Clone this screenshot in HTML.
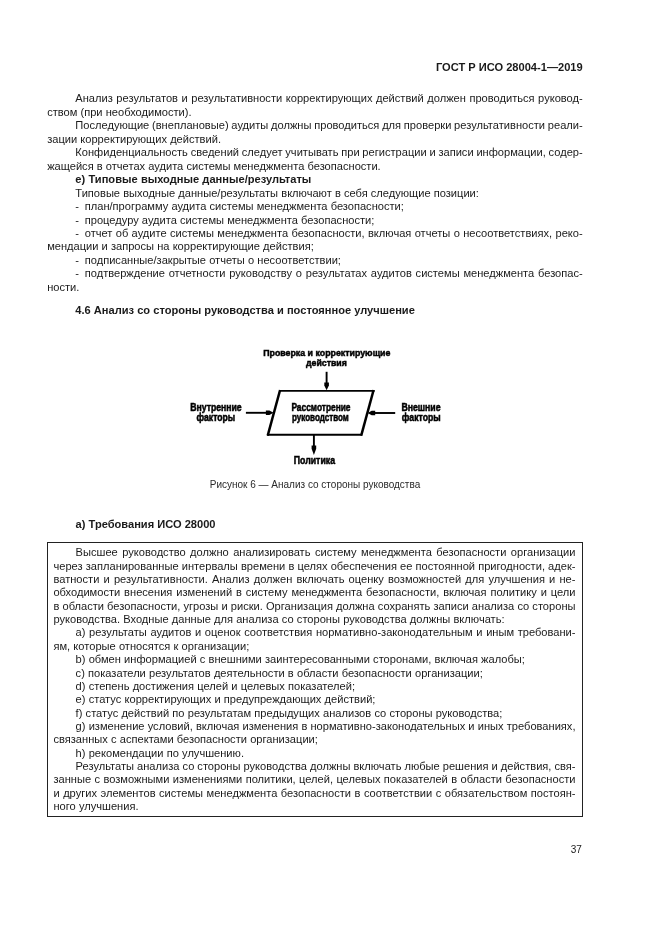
<!DOCTYPE html>
<html lang="ru"><head><meta charset="utf-8"><title>ГОСТ Р ИСО 28004-1—2019</title>
<style>
html,body{margin:0;padding:0;background:#fff;}
body{width:661px;height:935px;position:relative;overflow:hidden;font-family:"Liberation Sans",sans-serif;color:#1a1a1a;}
.t{position:absolute;font-size:11.104px;line-height:13px;height:13px;white-space:nowrap;}
.j{white-space:normal;text-align:justify;text-align-last:justify;}
.l{text-align:left;}
.b{font-weight:bold;}
.r{text-align:right;}
.c{text-align:center;}
i.d{font-style:normal;display:inline-block;width:9.4px;}
#bx{position:absolute;left:47px;top:542px;width:536px;height:275px;box-sizing:border-box;border:1px solid #222;}
svg{position:absolute;left:0;top:0;}
#pg{position:absolute;left:0;top:0;width:661px;height:935px;will-change:transform;}
</style></head><body><div id="pg">

<div class="t l b" style="left:300.00px;top:61px;width:282.70px;text-align:right;line-height:12px;height:12px;">ГОСТ Р ИСО 28004-1—2019</div>
<div class="t l" style="left:75.35px;top:92px;width:507.35px;word-spacing:0.462px;line-height:12px;height:12px;">Анализ результатов и результативности корректирующих действий должен проводиться руковод-</div>
<div class="t l" style="left:47.15px;top:106px;width:535.55px;word-spacing:0.06px;line-height:12px;height:12px;">ством (при необходимости).</div>
<div class="t l" style="left:75.35px;top:119px;width:507.35px;word-spacing:-0.316px;line-height:12px;height:12px;">Последующие (внеплановые) аудиты должны проводиться для проверки результативности реали-</div>
<div class="t l" style="left:47.15px;top:133px;width:535.55px;word-spacing:0.06px;line-height:12px;height:12px;">зации корректирующих действий.</div>
<div class="t l" style="left:75.35px;top:146px;width:507.35px;word-spacing:-0.310px;line-height:12px;height:12px;">Конфиденциальность сведений следует учитывать при регистрации и записи информации, содер-</div>
<div class="t l" style="left:47.15px;top:160px;width:535.55px;word-spacing:0.06px;line-height:12px;height:12px;">жащейся в отчетах аудита системы менеджмента безопасности.</div>
<div class="t l b" style="left:75.35px;top:173px;width:507.35px;word-spacing:0.2px;line-height:12px;height:12px;">е) Типовые выходные данные/результаты</div>
<div class="t l" style="left:75.35px;top:187px;width:507.35px;word-spacing:0.06px;line-height:12px;height:12px;">Типовые выходные данные/результаты включают в себя следующие позиции:</div>
<div class="t l" style="left:75.35px;top:200px;width:507.35px;word-spacing:0.06px;line-height:12px;height:12px;"><i class=d>-</i>план/программу аудита системы менеджмента безопасности;</div>
<div class="t l" style="left:75.35px;top:214px;width:507.35px;word-spacing:0.06px;line-height:12px;height:12px;"><i class=d>-</i>процедуру аудита системы менеджмента безопасности;</div>
<div class="t l" style="left:75.35px;top:227px;width:507.35px;word-spacing:0.249px;line-height:12px;height:12px;"><i class=d>-</i>отчет об аудите системы менеджмента безопасности, включая отчеты о несоответствиях, реко-</div>
<div class="t l" style="left:47.15px;top:240px;width:535.55px;word-spacing:0.06px;line-height:12px;height:12px;">мендации и запросы на корректирующие действия;</div>
<div class="t l" style="left:75.35px;top:254px;width:507.35px;word-spacing:0.06px;line-height:12px;height:12px;"><i class=d>-</i>подписанные/закрытые отчеты о несоответствии;</div>
<div class="t l" style="left:75.35px;top:267px;width:507.35px;word-spacing:0.716px;line-height:12px;height:12px;"><i class=d>-</i>подтверждение отчетности руководству о результатах аудитов системы менеджмента безопас-</div>
<div class="t l" style="left:47.15px;top:281px;width:535.55px;word-spacing:0.06px;line-height:12px;height:12px;">ности.</div>
<div class="t l b" style="left:75.35px;top:304px;width:507.35px;line-height:12px;height:12px;">4.6 Анализ со стороны руководства и постоянное улучшение</div>
<svg width="661" height="935" viewBox="0 0 661 935">
<g fill="none" stroke="#000" stroke-width="1.9" stroke-linecap="butt">
<path d="M279.2 390.9 H374.6"/>
<path d="M267.0 434.8 H362.0"/>
<path d="M326.6 371.8 V386"/>
<path d="M245.9 412.8 H268"/>
<path d="M395.2 413.0 H373"/>
<path d="M313.9 434.8 V448"/>
</g>
<g fill="none" stroke="#000" stroke-width="2.5" stroke-linecap="butt">
<path d="M280.1 390 L267.7 435.7"/>
<path d="M373.6 390 L361.2 435.7"/>
</g>
<g fill="#000" stroke="none">
<path d="M324.3 382.4 L328.9 382.4 L328.9 385.5 L326.6 390.2 L324.3 385.5 Z"/>
<path d="M265.9 410.5 L269.4 410.5 L273.6 412.8 L269.4 415.1 L265.9 415.1 Z"/>
<path d="M375.2 410.7 L371.7 410.7 L367.6 413.0 L371.7 415.3 L375.2 415.3 Z"/>
<path d="M311.6 445.4 L316.2 445.4 L316.2 448.8 L313.9 455.0 L311.6 448.8 Z"/>
</g>
<g font-family="Liberation Sans, sans-serif" font-weight="bold" font-size="10" fill="#000" stroke="#000" stroke-width="0.5" style="filter:blur(0.3px)">
<text x="263.2" y="356.0" font-size="9.8" textLength="127.2" lengthAdjust="spacingAndGlyphs">Проверка и корректирующие</text>
<text x="306.0" y="366.3" font-size="9.8" textLength="40.8" lengthAdjust="spacingAndGlyphs">действия</text>
<text x="190.2" y="411.0" textLength="51.5" lengthAdjust="spacingAndGlyphs">Внутренние</text>
<text x="196.5" y="420.6" textLength="38.7" lengthAdjust="spacingAndGlyphs">факторы</text>
<text x="291.4" y="411.0" textLength="59.1" lengthAdjust="spacingAndGlyphs">Рассмотрение</text>
<text x="292.0" y="420.6" textLength="56.8" lengthAdjust="spacingAndGlyphs">руководством</text>
<text x="401.4" y="411.0" textLength="39.2" lengthAdjust="spacingAndGlyphs">Внешние</text>
<text x="401.8" y="420.6" textLength="38.8" lengthAdjust="spacingAndGlyphs">факторы</text>
<text x="293.8" y="464.1" textLength="41.2" lengthAdjust="spacingAndGlyphs">Политика</text>
</g>
</svg>
<div class="t l" style="left:47.30px;top:479px;width:535.40px;text-align:center;font-size:10px;color:#2a2a2a;line-height:11px;height:11px;">Рисунок 6 — Анализ со стороны руководства</div>
<div class="t l b" style="left:75.60px;top:518px;width:507.10px;line-height:12px;height:12px;">а) Требования ИСО 28000</div>
<div id="bx"></div>
<div class="t l" style="left:75.60px;top:546px;width:499.90px;word-spacing:1.356px;line-height:12px;height:12px;">Высшее руководство должно анализировать систему менеджмента безопасности организации</div>
<div class="t l" style="left:53.45px;top:560px;width:522.05px;word-spacing:0.071px;line-height:12px;height:12px;">через запланированные интервалы времени в целях обеспечения ее постоянной пригодности, адек-</div>
<div class="t l" style="left:53.45px;top:573px;width:522.05px;word-spacing:1.090px;line-height:12px;height:12px;">ватности и результативности. Анализ должен включать оценку возможностей для улучшения и не-</div>
<div class="t l" style="left:53.45px;top:586px;width:522.05px;word-spacing:0.799px;line-height:12px;height:12px;">обходимости внесения изменений в систему менеджмента безопасности, включая политику и цели</div>
<div class="t l" style="left:53.45px;top:600px;width:522.05px;word-spacing:0.058px;line-height:12px;height:12px;">в области безопасности, угрозы и риски. Организация должна сохранять записи анализа со стороны</div>
<div class="t l" style="left:53.45px;top:613px;width:522.05px;word-spacing:0.13px;line-height:12px;height:12px;">руководства. Входные данные для анализа со стороны руководства должны включать:</div>
<div class="t l" style="left:75.60px;top:626px;width:499.90px;word-spacing:0.557px;line-height:12px;height:12px;">а) результаты аудитов и оценок соответствия нормативно-законодательным и иным требовани-</div>
<div class="t l" style="left:53.45px;top:640px;width:522.05px;word-spacing:0.13px;line-height:12px;height:12px;">ям, которые относятся к организации;</div>
<div class="t l" style="left:75.60px;top:653px;width:499.90px;word-spacing:0.13px;line-height:12px;height:12px;">b) обмен информацией с внешними заинтересованными сторонами, включая жалобы;</div>
<div class="t l" style="left:75.60px;top:667px;width:499.90px;word-spacing:0.13px;line-height:12px;height:12px;">с) показатели результатов деятельности в области безопасности организации;</div>
<div class="t l" style="left:75.60px;top:680px;width:499.90px;word-spacing:0.13px;line-height:12px;height:12px;">d) степень достижения целей и целевых показателей;</div>
<div class="t l" style="left:75.60px;top:693px;width:499.90px;word-spacing:0.13px;line-height:12px;height:12px;">е) статус корректирующих и предупреждающих действий;</div>
<div class="t l" style="left:75.60px;top:707px;width:499.90px;word-spacing:0.13px;line-height:12px;height:12px;">f) статус действий по результатам предыдущих анализов со стороны руководства;</div>
<div class="t l" style="left:75.60px;top:720px;width:499.90px;word-spacing:0.098px;line-height:12px;height:12px;">g) изменение условий, включая изменения в нормативно-законодательных и иных требованиях,</div>
<div class="t l" style="left:53.45px;top:733px;width:522.05px;word-spacing:0.13px;line-height:12px;height:12px;">связанных с аспектами безопасности организации;</div>
<div class="t l" style="left:75.60px;top:747px;width:499.90px;word-spacing:0.13px;line-height:12px;height:12px;">h) рекомендации по улучшению.</div>
<div class="t l" style="left:75.60px;top:760px;width:499.90px;word-spacing:-0.049px;line-height:12px;height:12px;">Результаты анализа со стороны руководства должны включать любые решения и действия, свя-</div>
<div class="t l" style="left:53.45px;top:773px;width:522.05px;word-spacing:0.307px;line-height:12px;height:12px;">занные с возможными изменениями политики, целей, целевых показателей в области безопасности</div>
<div class="t l" style="left:53.45px;top:787px;width:522.05px;word-spacing:0.432px;line-height:12px;height:12px;">и других элементов системы менеджмента безопасности в соответствии с обязательством постоян-</div>
<div class="t l" style="left:53.45px;top:800px;width:522.05px;word-spacing:0.13px;line-height:12px;height:12px;">ного улучшения.</div>
<div class="t l" style="left:500.00px;top:844px;width:81.90px;text-align:right;font-size:10px;line-height:11px;height:11px;">37</div>
</div></body></html>
